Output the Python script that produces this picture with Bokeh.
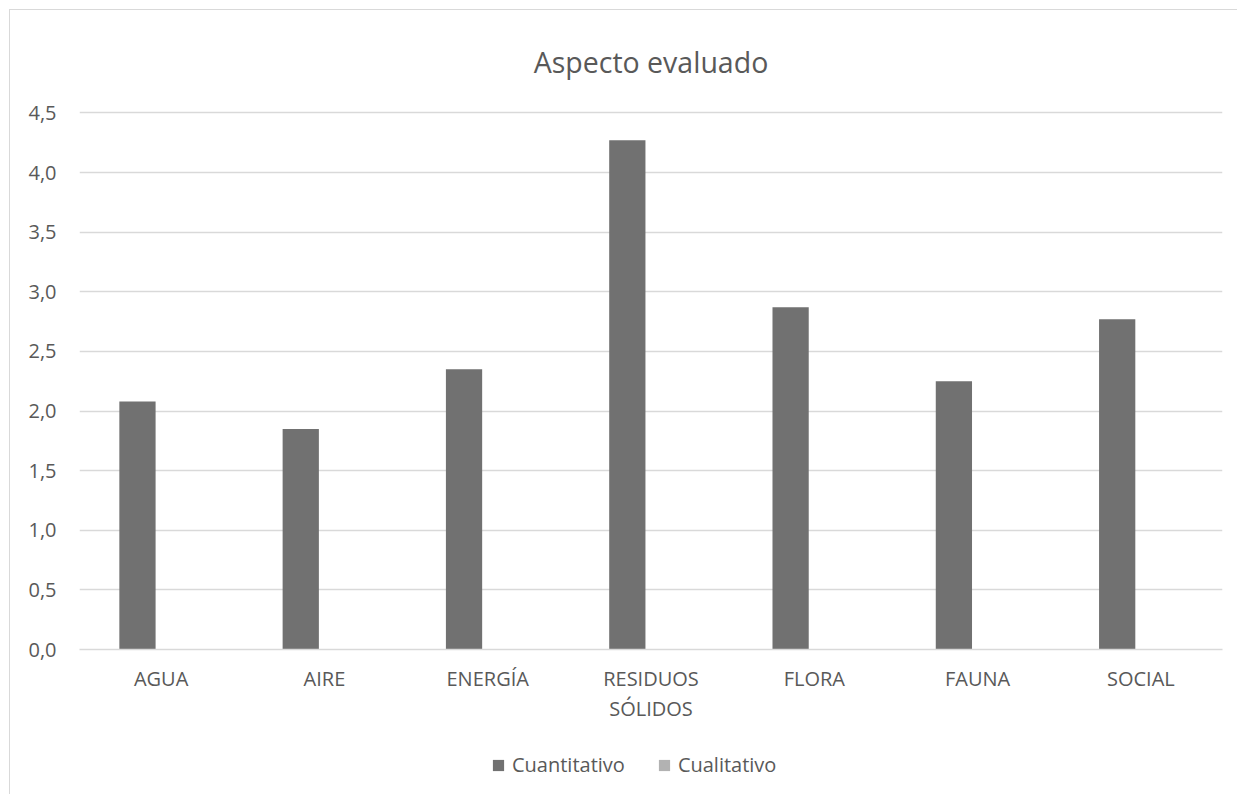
from bokeh.plotting import figure
from bokeh.layouts import column
from bokeh.models import (ColumnDataSource, FactorRange, Range1d, FixedTicker, CustomJSTickFormatter,
                          Legend, LegendItem, Title, CategoricalAxis)
from bokeh.transform import dodge
from bokeh.embed import file_html
from bokeh.resources import INLINE

categories = ["AGUA", "AIRE", "ENERGÍA", "RESIDUOS SÓLIDOS", "FLORA", "FAUNA", "SOCIAL"]
cuantitativo = [2.08, 1.85, 2.35, 4.27, 2.87, 2.25, 2.77]
cualitativo = [0, 0, 0, 0, 0, 0, 0]
y_ticks = [0, 0.5, 1.0, 1.5, 2.0, 2.5, 3.0, 3.5, 4.0, 4.5]
series_names = ["Cuantitativo", "Cualitativo"]
series_colors = ["#717171", "#b2b2b2"]

FONT = "Open Sans"
TXT = "#595959"
FS = "20px"

src = ColumnDataSource(dict(cat=categories, cuant=cuantitativo, cual=cualitativo))

p = figure(width=1228, height=715, x_range=FactorRange(*categories), y_range=Range1d(0, 4.52),
           output_backend="svg", toolbar_location=None,
           min_border_left=69, min_border_right=16, min_border_top=94, min_border_bottom=76)
p.margin = (9, 0, 0, 9)
p.styles = {"border-top": "1px solid #d9d9d9", "border-left": "1px solid #d9d9d9"}
p.outline_line_color = None
p.background_fill_color = "white"
p.border_fill_color = "white"

t = Title(text="Aspecto evaluado", align="center", text_font=FONT, text_font_size="28.5px",
          text_color=TXT, text_font_style="normal", standoff=60)
p.add_layout(t, "above")

r1 = p.vbar(x=dodge("cat", -0.145, range=p.x_range), top="cuant", width=0.222, source=src,
            fill_color=series_colors[0], line_color=None)
r2 = p.vbar(x=dodge("cat", 0.145, range=p.x_range), top="cual", width=0.222, source=src,
            fill_color=series_colors[1], line_color=None)

p.xgrid.grid_line_color = None
p.ygrid.grid_line_color = "#d9d9d9"
p.ygrid.grid_line_width = 1.3
p.yaxis.ticker = FixedTicker(ticks=y_ticks)
p.yaxis.formatter = CustomJSTickFormatter(code="return tick.toFixed(1).replace('.', ',');")
p.yaxis.axis_line_color = None
p.yaxis.major_tick_line_color = None
p.yaxis.minor_tick_line_color = None
p.yaxis.major_tick_out = 0
p.yaxis.major_label_standoff = 23

# first line of each category label
p.xaxis.axis_line_color = "#d9d9d9"
p.xaxis.axis_line_width = 1.3
p.xaxis.major_tick_line_color = None
p.xaxis.major_tick_out = 0
p.xaxis.major_label_standoff = 15
p.xaxis.formatter = CustomJSTickFormatter(code="return tick.split(' ')[0];")

# second line of the category labels
x2 = CategoricalAxis(formatter=CustomJSTickFormatter(
    code="const s = tick.split(' '); return s.length > 1 ? s.slice(1).join(' ') : '';"))
x2.axis_line_color = None
x2.major_tick_line_color = None
x2.major_tick_out = 0
x2.major_tick_in = 0
x2.major_label_standoff = 0
p.add_layout(x2, "below")

for ax in (p.xaxis[0], p.yaxis[0], x2):
    ax.major_label_text_font = FONT
    ax.major_label_text_font_size = FS
    ax.major_label_text_color = TXT

# legend strip below the chart (proxy renderers with zero-height bars)
p2 = figure(width=1228, height=70, x_range=p.x_range, y_range=(0, 1),
            output_backend="svg", toolbar_location=None,
            min_border=0, min_border_left=0, min_border_right=0, min_border_top=0, min_border_bottom=0)
p2.margin = (0, 0, 0, 9)
p2.styles = {"border-left": "1px solid #d9d9d9"}
p2.outline_line_color = None
p2.axis.visible = False
p2.grid.visible = False
p2.border_fill_color = "white"
lr = [p2.vbar(x="cat", top="cual", width=0.1, source=src, fill_color=c, line_color=None)
      for c in series_colors]

legend = Legend(items=[LegendItem(label=n, renderers=[r]) for n, r in zip(series_names, lr)],
                orientation="horizontal", location=(412, 16),
                label_text_font=FONT, label_text_font_size=FS, label_text_color=TXT,
                glyph_width=14, glyph_height=14, label_standoff=7, spacing=32,
                border_line_color=None, background_fill_alpha=0, margin=0, padding=0)
p2.add_layout(legend, "center")

open("out.html", "w").write(file_html(column(p, p2), INLINE))
